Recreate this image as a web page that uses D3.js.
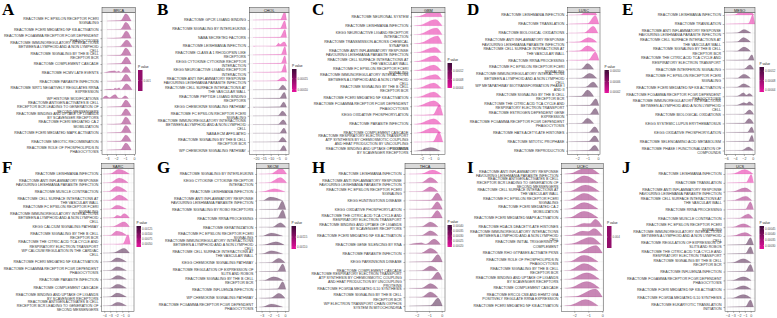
<!DOCTYPE html>
<html>
<head>
<meta charset="utf-8">
<script src="https://d3js.org/d3.v7.min.js"></script>
<style>
  body { margin: 0; background: #fff; }
  svg { display: block; }
</style>
</head>
<body>
<div class="figure"></div>
<script>
// ---- data ----
const panelLetters = ['A', 'B', 'C', 'D', 'E', 'F', 'G', 'H', 'I', 'J'];
const cohorts = ['BRCA', 'CHOL', 'GBM', 'LUSC', 'MESO', 'SARC', 'SKCM', 'THCA', 'UCEC', 'UCS'];

// ridge = [tail start, hump start, peak, hump end, peak height]  (x in log2FC units)
const brcaTerms = [
  'REACTOME FC EPSILON RECEPTOR FCERI\nSIGNALING',
  'REACTOME FCERI MEDIATED NF KB ACTIVATION',
  'REACTOME FCGAMMA RECEPTOR FCGR DEPENDENT\nPHAGOCYTOSIS',
  'REACTOME IMMUNOREGULATORY INTERACTIONS\nBETWEEN A LYMPHOID AND A NON LYMPHOID\nCELL',
  'REACTOME SIGNALING BY THE B CELL\nRECEPTOR BCR',
  'REACTOME COMPLEMENT CASCADE',
  'REACTOME HCMV LATE EVENTS',
  'REACTOME PARASITE INFECTION',
  'REACTOME SIRT1 NEGATIVELY REGULATES RRNA\nEXPRESSION',
  'WP HISTONE MODIFICATIONS',
  'REACTOME ANTIGEN ACTIVATES B CELL\nRECEPTOR BCR LEADING TO GENERATION OF\nSECOND MESSENGERS',
  'REACTOME BINDING AND UPTAKE OF LIGANDS\nBY SCAVENGER RECEPTORS',
  'REACTOME FCERI MEDIATED CA 2\nMOBILIZATION',
  'REACTOME FCERI MEDIATED MAPK ACTIVATION',
  'REACTOME MEIOTIC RECOMBINATION',
  'REACTOME ROLE OF PHOSPHOLIPIDS IN\nPHAGOCYTOSIS'
];
const brcaRidges = [
  [-3.0, -1.5, -0.9, -0.3, 0.85], [-3.0, -1.5, -0.9, -0.3, 0.85], [-3.0, -1.5, -0.85, -0.3, 0.85],
  [-3.0, -1.6, -0.8, -0.2, 0.8], [-3.0, -1.5, -0.9, -0.3, 0.85], [-3.0, -1.5, -0.85, -0.3, 0.8],
  [-3.3, -1.45, -0.9, -0.35, 0.7], [-3.0, -1.5, -0.9, -0.3, 0.8], [-3.3, -1.45, -0.85, -0.2, 0.7],
  [-3.5, -1.4, -1.0, -0.6, 0.3], [-3.0, -1.5, -0.9, -0.3, 0.8], [-3.0, -1.5, -0.9, -0.3, 0.8],
  [-3.0, -1.5, -0.9, -0.3, 0.85], [-3.0, -1.5, -0.9, -0.3, 0.85], [-3.0, -1.5, -0.9, -0.3, 0.75],
  [-3.0, -1.5, -0.9, -0.3, 0.8]
];
const brcaBumps = [
  [6, [[-2.15, 0.22], [-1.95, 0.1], [-1.7, 0.2]]],
  [8, [[-2.6, 0.08], [-2.3, 0.05], [-2.1, 0.22], [-1.9, 0.12], [-1.65, 0.25]]],
  [9, [[-3.1, 0.3], [-2.75, 0.08], [-2.1, 0.45], [-1.7, 0.04]]]
];
const brcaP = [0.001, 0.001, 0.001, 0.001, 0.001, 0.001, 0.001, 0.001, 0.001, 0.001, 0.001, 0.001, 0.001, 0.001, 0.001, 0.001];
const brcaTicks = [-3, -2, -1, 0];
const brcaLegend = ['0.001'];

const cholTerms = [
  'REACTOME GPCR LIGAND BINDING',
  'REACTOME SIGNALING BY INTERLEUKINS',
  'NABA SECRETED FACTORS',
  'REACTOME LEISHMANIA INFECTION',
  'REACTOME CLASS A 1 RHODOPSIN LIKE\nRECEPTORS',
  'KEGG CYTOKINE CYTOKINE RECEPTOR\nINTERACTION',
  'KEGG NEUROACTIVE LIGAND RECEPTOR\nINTERACTION',
  'REACTOME ANTI INFLAMMATORY RESPONSE\nFAVOURING LEISHMANIA PARASITE INFECTION',
  'REACTOME CELL SURFACE INTERACTIONS AT\nTHE VASCULAR WALL',
  'REACTOME PEPTIDE LIGAND BINDING\nRECEPTORS',
  'KEGG CHEMOKINE SIGNALING PATHWAY',
  'REACTOME FC EPSILON RECEPTOR FCERI\nSIGNALING',
  'REACTOME IMMUNOREGULATORY INTERACTIONS\nBETWEEN A LYMPHOID AND A NON LYMPHOID\nCELL',
  'NABA ECM AFFILIATED',
  'REACTOME SIGNALING BY THE B CELL\nRECEPTOR BCR',
  'WP CHEMOKINE SIGNALING PATHWAY'
];
const cholRidges = [
  [-22, -3.5, -0.5, 0.8, 0.95], [-22, -3.5, -0.6, 0.8, 0.9], [-22, -3.5, -0.4, 0.8, 0.9],
  [-22, -6.5, -1.0, 1.0, 0.5], [-22, -3.0, -0.4, 0.8, 0.95], [-22, -3.0, -0.5, 0.8, 0.9],
  [-22, -3.0, -0.4, 0.8, 0.95], [-22, -6.0, -1.5, 1.0, 0.45], [-22, -5.0, -1.8, 0.8, 0.55],
  [-22, -4.0, -0.8, 0.8, 0.7], [-22, -4.0, -1.2, 0.8, 0.6], [-22, -5.0, -2.0, 0.8, 0.55],
  [-22, -5.0, -1.5, 0.8, 0.55], [-22, -4.0, -1.0, 0.8, 0.6], [-22, -5.0, -2.0, 0.8, 0.55],
  [-22, -4.0, -1.2, 0.8, 0.6]
];
const cholBumps = [[3, [[-4.6, 0.35], [-3.7, 0.2]]]];
const cholP = [0.000089, 0.000089, 0.000089, 0.000089, 0.000089, 0.000089, 0.000089, 0.000089,
  0.000195, 0.000195, 0.000195, 0.000195, 0.000195, 0.000195, 0.000195, 0.000195];
const cholTicks = [-20, -15, -10, -5, 0];
const cholLegend = ['0.00010', '0.00015'];

const gbmTerms = [
  'REACTOME NEURONAL SYSTEM',
  'REACTOME LEISHMANIA INFECTION',
  'KEGG NEUROACTIVE LIGAND RECEPTOR\nINTERACTION',
  'REACTOME TRANSMISSION ACROSS CHEMICAL\nSYNAPSES',
  'REACTOME ANTI INFLAMMATORY RESPONSE\nFAVOURING LEISHMANIA PARASITE INFECTION',
  'REACTOME CELL SURFACE INTERACTIONS AT\nTHE VASCULAR WALL',
  'REACTOME FC EPSILON RECEPTOR FCERI\nSIGNALING',
  'REACTOME IMMUNOREGULATORY INTERACTIONS\nBETWEEN A LYMPHOID AND A NON LYMPHOID\nCELL',
  'REACTOME SIGNALING BY THE B CELL\nRECEPTOR BCR',
  'REACTOME FCERI MEDIATED NF KB ACTIVATION',
  'REACTOME FCGAMMA RECEPTOR FCGR DEPENDENT\nPHAGOCYTOSIS',
  'KEGG OXIDATIVE PHOSPHORYLATION',
  'REACTOME PARASITE INFECTION',
  'REACTOME COMPLEMENT CASCADE',
  'REACTOME RESPIRATORY ELECTRON TRANSPORT\nATP SYNTHESIS BY CHEMIOSMOTIC COUPLING\nAND HEAT PRODUCTION BY UNCOUPLING\nPROTEINS',
  'REACTOME BINDING AND UPTAKE OF LIGANDS\nBY SCAVENGER RECEPTORS'
];
const gbmRidges = [
  [-2.9, -2.3, -0.15, 0.5, 0.85], [-2.9, -2.3, -0.3, 0.5, 0.7], [-2.9, -2.3, -0.2, 0.5, 0.75],
  [-2.9, -2.2, -0.05, 0.5, 0.85], [-2.9, -2.4, -0.4, 0.4, 0.6], [-2.9, -2.4, -0.4, 0.4, 0.65],
  [-2.9, -2.4, -0.5, 0.4, 0.6], [-2.9, -2.4, -0.3, 0.4, 0.55], [-2.9, -2.4, -0.5, 0.4, 0.6],
  [-2.9, -2.4, -0.5, 0.4, 0.6], [-2.9, -2.4, -0.5, 0.4, 0.6], [-2.9, -0.6, 0.15, 0.6, 1.1],
  [-2.9, -2.4, -0.5, 0.4, 0.6], [-2.9, -2.4, -0.6, 0.4, 0.6], [-2.9, -0.6, 0.1, 0.6, 1.1],
  [-2.9, -2.5, -0.9, 0.3, 0.4]
];
const gbmBumps = [];
const gbmP = [0.00004, 0.00004, 0.00004, 0.00004, 0.00004, 0.00004, 0.00004, 0.00004, 0.00004,
  0.00004, 0.00004, 0.00004, 0.00004, 0.00004, 0.00004, 0.000158];
const gbmTicks = [-2, -1, 0];
const gbmLegend = ['0.00004', '0.00008', '0.00012'];

const luscTerms = [
  'REACTOME LEISHMANIA INFECTION',
  'REACTOME TRANSLATION',
  'REACTOME BIOLOGICAL OXIDATIONS',
  'REACTOME ANTI INFLAMMATORY RESPONSE\nFAVOURING LEISHMANIA PARASITE INFECTION',
  'REACTOME CELL SURFACE INTERACTIONS AT\nTHE VASCULAR WALL',
  'REACTOME RRNA PROCESSING',
  'REACTOME FC EPSILON RECEPTOR FCERI\nSIGNALING',
  'REACTOME IMMUNOREGULATORY INTERACTIONS\nBETWEEN A LYMPHOID AND A NON LYMPHOID\nCELL',
  'WP METAPATHWAY BIOTRANSFORMATION PHASE I\nAND II',
  'REACTOME SIGNALING BY THE B CELL\nRECEPTOR BCR',
  'REACTOME THE CITRIC ACID TCA CYCLE AND\nRESPIRATORY ELECTRON TRANSPORT',
  'REACTOME ESTROGEN DEPENDENT GENE\nEXPRESSION',
  'REACTOME FCGAMMA RECEPTOR FCGR DEPENDENT\nPHAGOCYTOSIS',
  'REACTOME HATS ACETYLATE HISTONES',
  'REACTOME MITOTIC PROPHASE',
  'REACTOME REPRODUCTION'
];
const luscRidges = [
  [-2.8, -1.7, -0.9, -0.1, 0.6], [-2.8, -1.0, -0.25, 0.1, 0.95], [-2.8, -1.3, -0.45, 0.0, 0.75],
  [-2.8, -1.8, -0.9, -0.1, 0.5], [-2.8, -1.8, -1.0, -0.2, 0.6], [-2.8, -0.9, -0.25, 0.1, 0.9],
  [-2.8, -1.6, -1.0, -0.4, 0.65], [-2.8, -1.6, -0.8, -0.1, 0.55], [-2.8, -1.2, -0.45, 0.0, 0.6],
  [-2.8, -1.6, -1.0, -0.4, 0.7], [-2.8, -0.8, -0.2, 0.1, 0.75], [-2.8, -0.8, -0.25, 0.1, 0.7],
  [-2.8, -1.6, -1.0, -0.4, 0.6], [-2.8, -0.9, -0.3, 0.1, 0.65], [-2.8, -0.9, -0.3, 0.1, 0.65],
  [-2.8, -0.9, -0.3, 0.1, 0.6]
];
const luscBumps = [[0, [[-0.3, 0.35]]]];
const luscP = [0.000016, 0.000016, 0.000016, 0.000016, 0.000016, 0.000016, 0.000104, 0.000104,
  0.000104, 0.000104, 0.000104, 0.000104, 0.000104, 0.000104, 0.000104, 0.000104];
const luscTicks = [-2, -1, 0];
const luscLegend = ['0.00002', '0.00006', '0.00010'];

const mesoTerms = [
  'REACTOME LEISHMANIA INFECTION',
  'REACTOME TRANSLATION',
  'REACTOME ANTI INFLAMMATORY RESPONSE\nFAVOURING LEISHMANIA PARASITE INFECTION',
  'REACTOME CELL SURFACE INTERACTIONS AT\nTHE VASCULAR WALL',
  'REACTOME SIGNALING BY THE B CELL\nRECEPTOR BCR',
  'REACTOME THE CITRIC ACID TCA CYCLE AND\nRESPIRATORY ELECTRON TRANSPORT',
  'REACTOME INTERFERON SIGNALING',
  'REACTOME FC EPSILON RECEPTOR FCERI\nSIGNALING',
  'REACTOME FCERI MEDIATED NF KB ACTIVATION',
  'REACTOME FCGAMMA RECEPTOR FCGR DEPENDENT\nPHAGOCYTOSIS',
  'REACTOME IMMUNOREGULATORY INTERACTIONS\nBETWEEN A LYMPHOID AND A NON LYMPHOID\nCELL',
  'REACTOME BIOLOGICAL OXIDATIONS',
  'KEGG SYSTEMIC LUPUS ERYTHEMATOSUS',
  'KEGG OXIDATIVE PHOSPHORYLATION',
  'REACTOME SELENOAMINO ACID METABOLISM',
  'REACTOME PHASE I FUNCTIONALIZATION OF\nCOMPOUNDS'
];
const mesoRidges = [
  [-6, -4, -1.0, 0.3, 0.45], [-6, -1.0, 0.0, 0.45, 1.0], [-6, -3.5, -2.0, -0.4, 0.4],
  [-6, -3.5, -2.1, -0.5, 0.5], [-6, -3.5, -2.0, -0.5, 0.45], [-6, -1.2, -0.2, 0.3, 0.6],
  [-6, -2.0, -0.6, 0.2, 0.5], [-6, -3.5, -2.0, -0.5, 0.45], [-6, -3.5, -2.1, -0.5, 0.4],
  [-6, -3.5, -2.1, 0.0, 0.4], [-6, -3.5, -0.8, 0.2, 0.4], [-6, -2.0, -0.7, 0.2, 0.5],
  [-6, -2.0, -0.8, 0.2, 0.55], [-6, -1.2, -0.25, 0.3, 0.6], [-6, -1.0, -0.2, 0.3, 0.7],
  [-6, -2.5, -1.0, 0.2, 0.4]
];
const mesoBumps = [
  [0, [[-2.8, 0.35], [-2.3, 0.2], [-2.0, 0.25]]],
  [9, [[-1.4, 0.15], [-0.8, 0.3]]],
  [10, [[-2.0, 0.3], [-1.4, 0.2]]]
];
const mesoP = [0.000032, 0.000032, 0.000137, 0.000137, 0.000137, 0.000137, 0.000137, 0.000137,
  0.000137, 0.000137, 0.000137, 0.000137, 0.000137, 0.000137, 0.000137, 0.000137];
const mesoTicks = [-6, -4, -2, 0];
const mesoLegend = ['0.00004', '0.00008', '0.00012'];

const sarcTerms = [
  'REACTOME LEISHMANIA INFECTION',
  'REACTOME ANTI INFLAMMATORY RESPONSE\nFAVOURING LEISHMANIA PARASITE INFECTION',
  'REACTOME MUSCLE CONTRACTION',
  'REACTOME CELL SURFACE INTERACTIONS AT\nTHE VASCULAR WALL',
  'REACTOME FC EPSILON RECEPTOR FCERI\nSIGNALING',
  'REACTOME IMMUNOREGULATORY INTERACTIONS\nBETWEEN A LYMPHOID AND A NON LYMPHOID\nCELL',
  'KEGG CALCIUM SIGNALING PATHWAY',
  'REACTOME SIGNALING BY THE B CELL\nRECEPTOR BCR',
  'REACTOME THE CITRIC ACID TCA CYCLE AND\nRESPIRATORY ELECTRON TRANSPORT',
  'WP CALCIUM REGULATION IN THE CARDIAC\nCELL',
  'REACTOME FCERI MEDIATED NF KB ACTIVATION',
  'REACTOME FCGAMMA RECEPTOR FCGR DEPENDENT\nPHAGOCYTOSIS',
  'REACTOME PARASITE INFECTION',
  'REACTOME COMPLEMENT CASCADE',
  'REACTOME BINDING AND UPTAKE OF LIGANDS\nBY SCAVENGER RECEPTORS',
  'REACTOME ANTIGEN ACTIVATES B CELL\nRECEPTOR BCR LEADING TO GENERATION OF\nSECOND MESSENGERS'
];
const sarcRidges = [
  [-4.2, -3.0, -1.6, 0.2, 0.55], [-4.2, -3.0, -1.5, 0.0, 0.55], [-4.2, -3.2, -1.9, -0.2, 0.6],
  [-4.2, -3.0, -1.5, 0.0, 0.6], [-4.2, -3.0, -1.9, -0.3, 0.45], [-4.2, -2.5, -0.7, 0.2, 0.5],
  [-4.2, -2.5, -0.7, 0.2, 0.55], [-4.2, -3.0, -1.9, -0.2, 0.5], [-4.2, -0.9, -0.05, 0.35, 1.1],
  [-4.2, -2.5, -0.7, 0.2, 0.55], [-4.2, -3.0, -1.9, -0.3, 0.45], [-4.2, -3.0, -1.9, -0.3, 0.45],
  [-4.2, -3.0, -1.8, -0.3, 0.45], [-4.2, -3.0, -1.8, -0.3, 0.45], [-4.2, -3.0, -1.9, -0.3, 0.45],
  [-4.2, -3.0, -1.8, -0.3, 0.4]
];
const sarcBumps = [[5, [[-1.8, 0.3], [-1.3, 0.2]]]];
const sarcP = [0.0005, 0.0005, 0.0005, 0.0005, 0.0005, 0.0005, 0.0005, 0.0005, 0.00035,
  0.0014, 0.0014, 0.0014, 0.0014, 0.0014, 0.0014, 0.0014];
const sarcTicks = [-4, -3, -2, -1, 0];
const sarcLegend = ['0.00050', '0.00075', '0.00100', '0.00125'];

const skcmTerms = [
  'REACTOME SIGNALING BY INTERLEUKINS',
  'KEGG CYTOKINE CYTOKINE RECEPTOR\nINTERACTION',
  'REACTOME LEISHMANIA INFECTION',
  'REACTOME ANTI INFLAMMATORY RESPONSE\nFAVOURING LEISHMANIA PARASITE INFECTION',
  'REACTOME SIGNALING BY ROBO RECEPTORS',
  'REACTOME RRNA PROCESSING',
  'REACTOME KERATINIZATION',
  'REACTOME FC EPSILON RECEPTOR FCERI\nSIGNALING',
  'REACTOME IMMUNOREGULATORY INTERACTIONS\nBETWEEN A LYMPHOID AND A NON LYMPHOID\nCELL',
  'REACTOME CELL SURFACE INTERACTIONS AT\nTHE VASCULAR WALL',
  'KEGG CHEMOKINE SIGNALING PATHWAY',
  'REACTOME REGULATION OF EXPRESSION OF\nSLITS AND ROBOS',
  'REACTOME SIGNALING BY THE B CELL\nRECEPTOR BCR',
  'REACTOME INFLUENZA INFECTION',
  'WP CHEMOKINE SIGNALING PATHWAY',
  'REACTOME FCGAMMA RECEPTOR FCGR DEPENDENT\nPHAGOCYTOSIS'
];
const skcmRidges = [
  [-3.3, -1.8, -0.5, 0.2, 0.65], [-3.3, -2.0, -0.6, 0.2, 0.6], [-3.3, -2.8, -1.4, 0.0, 0.35],
  [-3.3, -2.8, -1.9, -0.3, 0.4], [-3.3, -1.0, -0.35, 0.1, 0.95], [-3.3, -1.0, -0.3, 0.1, 0.95],
  [-3.3, -1.6, -0.6, 0.1, 0.5], [-3.3, -2.8, -1.8, -0.3, 0.35], [-3.3, -2.6, -1.2, -0.1, 0.35],
  [-3.3, -2.8, -1.8, -0.3, 0.35], [-3.3, -1.8, -0.8, 0.0, 0.5], [-3.3, -1.0, -0.3, 0.1, 0.85],
  [-3.3, -2.6, -1.5, -0.2, 0.4], [-3.3, -1.0, -0.3, 0.1, 0.85], [-3.3, -1.8, -0.8, 0.0, 0.55],
  [-3.3, -2.8, -1.8, -0.3, 0.35]
];
const skcmBumps = [];
const skcmP = [0.00109, 0.00109, 0.00109, 0.001205, 0.001205, 0.001205, 0.001205, 0.001205,
  0.001205, 0.001205, 0.001205, 0.001205, 0.001205, 0.001205, 0.001205, 0.001205];
const skcmTicks = [-3, -2, -1, 0];
const skcmLegend = ['0.00110', '0.00115'];

const thcaTerms = [
  'REACTOME LEISHMANIA INFECTION',
  'REACTOME ANTI INFLAMMATORY RESPONSE\nFAVOURING LEISHMANIA PARASITE INFECTION',
  'REACTOME FC EPSILON RECEPTOR FCERI\nSIGNALING',
  'KEGG HUNTINGTONS DISEASE',
  'KEGG OXIDATIVE PHOSPHORYLATION',
  'REACTOME THE CITRIC ACID TCA CYCLE AND\nRESPIRATORY ELECTRON TRANSPORT',
  'REACTOME BINDING AND UPTAKE OF LIGANDS\nBY SCAVENGER RECEPTORS',
  'REACTOME FCERI MEDIATED NF KB ACTIVATION',
  'REACTOME GENE SILENCING BY RNA',
  'REACTOME PARASITE INFECTION',
  'KEGG PARKINSONS DISEASE',
  'REACTOME COMPLEMENT CASCADE',
  'REACTOME RESPIRATORY ELECTRON TRANSPORT\nATP SYNTHESIS BY CHEMIOSMOTIC COUPLING\nAND HEAT PRODUCTION BY UNCOUPLING\nPROTEINS',
  'REACTOME FCGR3A MEDIATED IL10 SYNTHESIS',
  'REACTOME SIGNALING BY THE B CELL\nRECEPTOR BCR',
  'WP ELECTRON TRANSPORT CHAIN OXPHOS\nSYSTEM IN MITOCHONDRIA'
];
const thcaRidges = [
  [-2.6, -1.6, -0.75, 0.0, 0.45], [-2.6, -1.6, -0.9, -0.3, 0.6], [-2.6, -1.6, -0.9, -0.3, 0.55],
  [-2.6, -0.9, -0.35, 0.05, 0.85], [-2.6, -0.9, -0.35, 0.05, 0.85], [-2.6, -0.9, -0.35, 0.05, 0.85],
  [-2.6, -1.6, -0.9, -0.3, 0.55], [-2.6, -1.6, -0.9, -0.3, 0.55], [-2.6, -1.25, -0.6, -0.1, 0.6],
  [-2.6, -1.6, -0.9, -0.3, 0.55], [-2.6, -0.9, -0.3, 0.05, 0.85], [-2.6, -1.6, -0.9, -0.3, 0.55],
  [-2.6, -0.9, -0.3, 0.05, 0.85], [-2.6, -1.6, -0.9, -0.3, 0.55], [-2.6, -1.6, -0.9, -0.3, 0.6],
  [-2.6, -0.9, -0.3, 0.05, 0.9]
];
const thcaBumps = [[8, [[-1.6, 0.2], [-1.4, 0.08]]]];
const thcaP = [0.00019, 0.00027, 0.00027, 0.0003, 0.0003, 0.0003, 0.00033, 0.00033,
  0.00033, 0.00033, 0.00035, 0.00035, 0.00035, 0.00036, 0.00036, 0.00041];
const thcaTicks = [-2, -1, 0];
const thcaLegend = ['0.00020', '0.00025', '0.00030', '0.00035', '0.00040'];

const ucecTerms = [
  'REACTOME ANTI INFLAMMATORY RESPONSE\nFAVOURING LEISHMANIA PARASITE INFECTION',
  'REACTOME ANTIGEN ACTIVATES B CELL\nRECEPTOR BCR LEADING TO GENERATION OF\nSECOND MESSENGERS',
  'REACTOME CELL SURFACE INTERACTIONS AT\nTHE VASCULAR WALL',
  'REACTOME FC EPSILON RECEPTOR FCERI\nSIGNALING',
  'REACTOME FCERI MEDIATED CA 2\nMOBILIZATION',
  'REACTOME FCERI MEDIATED MAPK ACTIVATION',
  'REACTOME HDACS DEACETYLATE HISTONES',
  'REACTOME IMMUNOREGULATORY INTERACTIONS\nBETWEEN A LYMPHOID AND A NON LYMPHOID\nCELL',
  'REACTOME INITIAL TRIGGERING OF\nCOMPLEMENT',
  'REACTOME RHO GTPASES ACTIVATE PKNS',
  'REACTOME ROLE OF PHOSPHOLIPIDS IN\nPHAGOCYTOSIS',
  'REACTOME SIGNALING BY THE B CELL\nRECEPTOR BCR',
  'REACTOME BINDING AND UPTAKE OF LIGANDS\nBY SCAVENGER RECEPTORS',
  'REACTOME COMPLEMENT CASCADE',
  'REACTOME ERCC6 CSB AND EHMT2 G9A\nPOSITIVELY REGULATE RRNA EXPRESSION',
  'REACTOME FCERI MEDIATED NF KB ACTIVATION'
];
const ucecRidges = [
  [-2.7, -2.3, -1.1, -0.2, 0.75], [-2.7, -2.3, -1.3, -0.3, 0.8], [-2.7, -2.3, -1.2, -0.2, 0.75],
  [-2.7, -2.3, -1.3, -0.3, 0.8], [-2.7, -2.3, -1.3, -0.3, 0.75], [-2.7, -2.3, -1.3, -0.3, 0.75],
  [-2.7, -2.0, -0.5, 0.0, 0.85], [-2.7, -2.2, -0.6, 0.0, 0.8], [-2.7, -2.2, -0.85, -0.1, 0.8],
  [-2.7, -1.8, -0.45, 0.0, 0.85], [-2.7, -2.3, -1.3, -0.3, 0.75], [-2.7, -2.3, -1.3, -0.3, 0.8],
  [-2.7, -2.3, -1.1, -0.2, 0.75], [-2.7, -2.3, -1.1, -0.2, 0.75], [-2.7, -1.9, -0.5, 0.0, 0.9],
  [-2.7, -2.3, -1.2, -0.3, 0.7]
];
const ucecBumps = [
  [6, [[-1.3, 0.4], [-0.9, 0.35]]],
  [7, [[-1.4, 0.5], [-1.0, 0.45]]]
];
const ucecP = [0.004, 0.004, 0.004, 0.004, 0.004, 0.004, 0.004, 0.004, 0.004, 0.004, 0.004, 0.004, 0.004, 0.004, 0.004, 0.004];
const ucecTicks = [-2, -1, 0];
const ucecLegend = ['0.004'];

const ucsTerms = [
  'REACTOME LEISHMANIA INFECTION',
  'REACTOME TRANSLATION',
  'REACTOME ANTI INFLAMMATORY RESPONSE\nFAVOURING LEISHMANIA PARASITE INFECTION',
  'REACTOME CELL SURFACE INTERACTIONS AT\nTHE VASCULAR WALL',
  'REACTOME RRNA PROCESSING',
  'REACTOME MUSCLE CONTRACTION',
  'REACTOME FC EPSILON RECEPTOR FCERI\nSIGNALING',
  'REACTOME IMMUNOREGULATORY INTERACTIONS\nBETWEEN A LYMPHOID AND A NON LYMPHOID\nCELL',
  'REACTOME REGULATION OF EXPRESSION OF\nSLITS AND ROBOS',
  'REACTOME THE CITRIC ACID TCA CYCLE AND\nRESPIRATORY ELECTRON TRANSPORT',
  'REACTOME SIGNALING BY THE B CELL\nRECEPTOR BCR',
  'REACTOME INFLUENZA INFECTION',
  'REACTOME FCGAMMA RECEPTOR FCGR DEPENDENT\nPHAGOCYTOSIS',
  'REACTOME FCERI MEDIATED NF KB ACTIVATION',
  'REACTOME FCGR3A MEDIATED IL10 SYNTHESIS',
  'REACTOME EUKARYOTIC TRANSLATION\nINITIATION'
];
const ucsRidges = [
  [-4.0, -3.0, -1.0, 0.4, 0.5], [-4.0, -0.8, 0.1, 0.5, 0.95], [-4.0, -3.0, -1.0, 0.2, 0.45],
  [-4.0, -3.0, -0.8, 0.2, 0.5], [-4.0, -0.9, -0.05, 0.5, 0.85], [-4.0, -2.0, -0.4, 0.4, 0.5],
  [-4.0, -3.0, -1.3, 0.1, 0.4], [-4.0, -3.0, -1.0, 0.2, 0.4], [-4.0, -0.9, -0.05, 0.5, 0.8],
  [-4.0, -0.9, -0.05, 0.5, 0.8], [-4.0, -3.0, -1.3, 0.1, 0.45], [-4.0, -0.9, -0.05, 0.5, 0.8],
  [-4.0, -3.0, -1.3, 0.1, 0.4], [-4.0, -3.0, -1.3, 0.1, 0.4], [-4.0, -3.0, -1.3, 0.1, 0.4],
  [-4.0, -0.9, -0.05, 0.5, 0.8]
];
const ucsBumps = [];
const ucsP = [0.00027, 0.00027, 0.00036, 0.00036, 0.00036, 0.00036, 0.00036, 0.00036,
  0.000475, 0.000475, 0.000475, 0.000475, 0.000475, 0.000475, 0.000475, 0.000475];
const ucsTicks = [-4, -3, -2, -1, 0];
const ucsLegend = ['0.00030', '0.00035', '0.00040', '0.00045'];

// table built from the arrays above
const panels = [
  {terms: brcaTerms, ridges: brcaRidges, bumps: brcaBumps, pvalue: brcaP, ticks: brcaTicks, legend: brcaLegend},
  {terms: cholTerms, ridges: cholRidges, bumps: cholBumps, pvalue: cholP, ticks: cholTicks, legend: cholLegend},
  {terms: gbmTerms, ridges: gbmRidges, bumps: gbmBumps, pvalue: gbmP, ticks: gbmTicks, legend: gbmLegend},
  {terms: luscTerms, ridges: luscRidges, bumps: luscBumps, pvalue: luscP, ticks: luscTicks, legend: luscLegend},
  {terms: mesoTerms, ridges: mesoRidges, bumps: mesoBumps, pvalue: mesoP, ticks: mesoTicks, legend: mesoLegend},
  {terms: sarcTerms, ridges: sarcRidges, bumps: sarcBumps, pvalue: sarcP, ticks: sarcTicks, legend: sarcLegend},
  {terms: skcmTerms, ridges: skcmRidges, bumps: skcmBumps, pvalue: skcmP, ticks: skcmTicks, legend: skcmLegend},
  {terms: thcaTerms, ridges: thcaRidges, bumps: thcaBumps, pvalue: thcaP, ticks: thcaTicks, legend: thcaLegend},
  {terms: ucecTerms, ridges: ucecRidges, bumps: ucecBumps, pvalue: ucecP, ticks: ucecTicks, legend: ucecLegend},
  {terms: ucsTerms, ridges: ucsRidges, bumps: ucsBumps, pvalue: ucsP, ticks: ucsTicks, legend: ucsLegend}
];

// ---- layout (pixels) ----
const layout = [
  {lx: 2, ly: 15, x0: 102, x1: 135.6, top: 12.5, bottom: 154.5, r0: 21, r1: 150, xlim: [-3.55, 0.18], lgx: 138, lgy0: 70, lgy1: 91},
  {lx: 157, ly: 15, x0: 249.3, x1: 289, top: 12.5, bottom: 154.5, r0: 20, r1: 150.7, xlim: [-24.5, 2.4], lgx: 292, lgy0: 69, lgy1: 92},
  {lx: 312, ly: 15, x0: 411.7, x1: 445, top: 12.5, bottom: 154.5, r0: 16.7, r1: 151, xlim: [-3.2, 0.85], lgx: 447.5, lgy0: 63, lgy1: 88},
  {lx: 467, ly: 15, x0: 567.7, x1: 600, top: 12.5, bottom: 154.5, r0: 15, r1: 150.7, xlim: [-2.9, 0.2], lgx: 604.5, lgy0: 70, lgy1: 93},
  {lx: 622, ly: 15, x0: 724.3, x1: 755, top: 12.5, bottom: 154.5, r0: 15, r1: 150.5, xlim: [-6.4, 0.5], lgx: 759.5, lgy0: 67, lgy1: 92},
  {lx: 2, ly: 173, x0: 101.7, x1: 134, top: 168.5, bottom: 311.3, r0: 174, r1: 305.7, xlim: [-4.43, 0.95], lgx: 136.5, lgy0: 226, lgy1: 247},
  {lx: 157, ly: 173, x0: 256.7, x1: 289, top: 168.5, bottom: 311.3, r0: 174, r1: 307, xlim: [-3.63, 0.5], lgx: 291.5, lgy0: 226, lgy1: 249},
  {lx: 312, ly: 173, x0: 405, x1: 445, top: 168.5, bottom: 311.3, r0: 174, r1: 306, xlim: [-2.93, 0.26], lgx: 447.5, lgy0: 225, lgy1: 247},
  {lx: 467, ly: 173, x0: 561.7, x1: 603.3, top: 168.5, bottom: 311.3, r0: 174, r1: 305.7, xlim: [-2.9, 0.07], lgx: 607, lgy0: 226, lgy1: 248},
  {lx: 622, ly: 173, x0: 725, x1: 755, top: 168.5, bottom: 311.3, r0: 174, r1: 307, xlim: [-4.4, 0.74], lgx: 759.5, lgy0: 226, lgy1: 249}
];

const lowColor = '#e6119d';
const highColor = '#3e0a39';
const fontSans = '"Liberation Sans", Arial, sans-serif';

const svg = d3.select('.figure')
  .append('svg')
  .attr('width', 777)
  .attr('height', 318)
  .style('font-family', fontSans);
const defs = svg.append('defs');

function drawPanel(panel, lay, k) {
  const g = svg.append('g');

  const scaleX = d3.scaleLinear().domain(lay.xlim).range([lay.x0, lay.x1]);
  const scaleY = d3.scalePoint()
    .domain(d3.range(panel.terms.length))
    .range([lay.r0, lay.r1]);
  const step = scaleY.step();
  const pExtent = d3.extent(panel.pvalue);
  const color = d3.scaleLinear().domain(pExtent).range([lowColor, highColor]);

  // panel background + grid
  g.append('rect')
    .attr('x', lay.x0).attr('y', lay.top)
    .attr('width', lay.x1 - lay.x0).attr('height', lay.bottom - lay.top)
    .attr('fill', '#fff');

  const tStep = panel.ticks[1] - panel.ticks[0];
  const minor = d3.range(panel.ticks[0] - tStep * 2.5, lay.xlim[1], tStep)
    .filter(v => v > lay.xlim[0] && v < lay.xlim[1]);
  g.append('g').selectAll('line.minor')
    .data(minor)
    .join('line')
    .attr('x1', d => scaleX(d)).attr('x2', d => scaleX(d))
    .attr('y1', lay.top).attr('y2', lay.bottom)
    .attr('stroke', '#f2f2f2').attr('stroke-width', 0.3);
  g.append('g').selectAll('line.major')
    .data(panel.ticks)
    .join('line')
    .attr('x1', d => scaleX(d)).attr('x2', d => scaleX(d))
    .attr('y1', lay.top).attr('y2', lay.bottom)
    .attr('stroke', '#e6e6e6').attr('stroke-width', 0.4);
  g.append('g').selectAll('line')
    .data(scaleY.domain())
    .join('line')
    .attr('x1', lay.x0).attr('x2', lay.x1)
    .attr('y1', d => scaleY(d)).attr('y2', d => scaleY(d))
    .attr('stroke', '#e6e6e6').attr('stroke-width', 0.4);

  // ridges
  const clipId = 'clip' + k;
  defs.append('clipPath').attr('id', clipId)
    .append('rect')
    .attr('x', lay.x0).attr('y', lay.top)
    .attr('width', lay.x1 - lay.x0).attr('height', lay.bottom - lay.top);

  const area = d3.area()
    .x(d => scaleX(d[0]))
    .y0(0)
    .y1(d => -d[1] * step)
    .curve(d3.curveMonotoneX);

  const ridgeG = g.append('g').attr('clip-path', `url(#${clipId})`);
  panel.ridges.forEach((r, i) => {
    const [tail, left, peak, right, h] = r;
    let pts = [[tail, 0], [left, 0.06 * h], [peak, h], [right, 0]];
    const extra = panel.bumps.find(b => b[0] === i);
    if (extra) pts = pts.concat(extra[1]).sort((a, b) => a[0] - b[0]);
    const c = color(panel.pvalue[i]);
    ridgeG.append('path')
      .datum(pts)
      .attr('transform', `translate(0,${scaleY(i)})`)
      .attr('d', area)
      .attr('fill', c)
      .attr('fill-opacity', 0.5)
      .attr('stroke', c)
      .attr('stroke-opacity', 0.35)
      .attr('stroke-width', 0.25);
  });

  // panel border
  g.append('rect')
    .attr('x', lay.x0).attr('y', lay.top)
    .attr('width', lay.x1 - lay.x0).attr('height', lay.bottom - lay.top)
    .attr('fill', 'none').attr('stroke', '#444').attr('stroke-width', 0.5);

  // strip
  g.append('rect')
    .attr('x', lay.x0).attr('y', lay.top - 5)
    .attr('width', lay.x1 - lay.x0).attr('height', 5)
    .attr('fill', '#d9d9d9').attr('stroke', '#444').attr('stroke-width', 0.5);
  g.append('text')
    .attr('x', (lay.x0 + lay.x1) / 2).attr('y', lay.top - 2.4)
    .attr('text-anchor', 'middle').attr('dominant-baseline', 'central')
    .attr('font-size', 3.9).attr('fill', '#1a1a1a')
    .text(cohorts[k]);

  // y axis ticks + multi-line labels
  const yAxis = g.append('g')
    .attr('transform', `translate(${lay.x0},0)`)
    .call(d3.axisLeft(scaleY).tickSize(1.6).tickFormat(''));
  yAxis.select('.domain').remove();
  yAxis.selectAll('line').attr('stroke', '#444').attr('stroke-width', 0.4);

  const lh = 4.2;
  panel.terms.forEach((t, i) => {
    const lines = t.split('\n');
    const txt = g.append('text')
      .attr('text-anchor', 'end')
      .attr('font-size', 3.6)
      .attr('fill', '#333');
    lines.forEach((line, j) => {
      txt.append('tspan')
        .attr('x', lay.x0 - 3.3)
        .attr('y', scaleY(i) + (j - (lines.length - 1) / 2) * lh + 1.3)
        .text(line);
    });
  });

  // x axis
  const xAxis = g.append('g')
    .attr('transform', `translate(0,${lay.bottom})`)
    .call(d3.axisBottom(scaleX).tickValues(panel.ticks).tickSize(1.5).tickPadding(1.3).tickFormat(d3.format('d')));
  xAxis.attr('font-size', 3.6).attr('font-family', fontSans);
  xAxis.select('.domain').remove();
  xAxis.selectAll('line').attr('stroke', '#444').attr('stroke-width', 0.4);
  xAxis.selectAll('text').attr('fill', '#4d4d4d');

  // panel letter
  svg.append('text')
    .attr('x', lay.lx).attr('y', lay.ly)
    .attr('font-family', '"Liberation Serif", "Times New Roman", serif')
    .attr('font-weight', 'bold')
    .attr('font-size', 17)
    .attr('fill', '#000')
    .text(panelLetters[k]);

  // colour legend
  const gradId = 'grad' + k;
  const grad = defs.append('linearGradient').attr('id', gradId)
    .attr('x1', 0).attr('y1', 0).attr('x2', 0).attr('y2', 1);
  d3.range(0, 1.0001, 0.1).forEach(t => {
    grad.append('stop')
      .attr('offset', t)
      .attr('stop-color', color(pExtent[1] - t * (pExtent[1] - pExtent[0])));
  });
  const lg = g.append('g');
  lg.append('text')
    .attr('x', lay.lgx).attr('y', lay.lgy0 - 1.8)
    .attr('font-size', 3.2).attr('fill', '#1a1a1a')
    .text('P value');
  lg.append('rect')
    .attr('x', lay.lgx).attr('y', lay.lgy0)
    .attr('width', 4.5).attr('height', lay.lgy1 - lay.lgy0)
    .attr('fill', `url(#${gradId})`);
  const legendY = d3.scaleLinear().domain(pExtent).range([lay.lgy1, lay.lgy0]);
  panel.legend.forEach(s => {
    const y = legendY(+s);
    lg.append('line').attr('x1', lay.lgx).attr('x2', lay.lgx + 0.9).attr('y1', y).attr('y2', y)
      .attr('stroke', '#fff').attr('stroke-width', 0.3);
    lg.append('line').attr('x1', lay.lgx + 3.6).attr('x2', lay.lgx + 4.5).attr('y1', y).attr('y2', y)
      .attr('stroke', '#fff').attr('stroke-width', 0.3);
    lg.append('text')
      .attr('x', lay.lgx + 5.5).attr('y', y)
      .attr('dominant-baseline', 'central')
      .attr('font-size', 2.9).attr('fill', '#4d4d4d')
      .text(s);
  });
}

panels.forEach((p, k) => drawPanel(p, layout[k], k));
</script>
</body>
</html>
